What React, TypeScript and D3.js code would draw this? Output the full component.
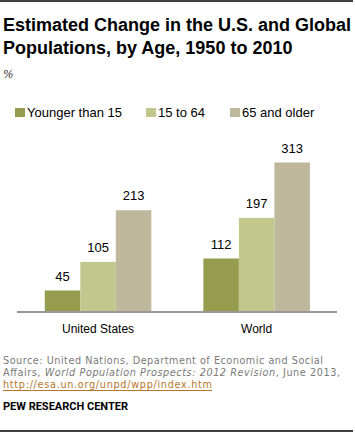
import React from "react";
import * as d3 from "d3";

const categories = ["United States", "World"];
const seriesNames = ["Younger than 15", "15 to 64", "65 and older"];
const seriesColors = ["#959c4e", "#c1c78d", "#c0b89c"];
const usValues = [45, 105, 213];
const worldValues = [112, 197, 313];
const values = [usValues, worldValues];

export default function App() {
  const W = 355, H = 433;
  const baseline = 312;
  const x0 = d3.scaleBand().domain(categories).range([17, 337.7]).paddingInner(0.328).paddingOuter(0.175);
  const x1 = d3.scaleBand().domain(seriesNames).range([0, x0.bandwidth()]);
  const y = d3.scaleLinear().domain([0, 313]).range([baseline, 162.5]);
  const legendX = [15, 146, 230];
  return (
    <svg width={W} height={H} style={{ position: "absolute", left: 0, top: 0, background: "#fff" }}>
      <line x1={0} x2={353} y1={1} y2={1} stroke="#000" strokeWidth={1.5} />
      <g fontFamily="'Liberation Sans', Arial, sans-serif" fontWeight="bold" fontSize={18} fill="#000">
        <text x={3} y={31}>Estimated Change in the U.S. and Global</text>
        <text x={3} y={54}>Populations, by Age, 1950 to 2010</text>
      </g>
      <text x={3} y={78} fontFamily="'DejaVu Serif', Georgia, serif" fontStyle="italic" fontSize={11} fill="#333">%</text>
      <g fontFamily="'Liberation Sans', Arial, sans-serif" fontSize={13} fill="#000">
        {seriesNames.map((s, i) => (
          <g key={s}>
            <rect x={legendX[i]} y={108} width={10} height={9} fill={seriesColors[i]} />
            <text x={legendX[i] + 12} y={117}>{s}</text>
          </g>
        ))}
      </g>
      {categories.map((c, ci) => (
        <g key={c} transform={`translate(${x0(c)},0)`}>
          {seriesNames.map((s, si) => {
            const v = values[ci][si];
            return (
              <g key={s}>
                <rect x={x1(s)} y={y(v)} width={x1.bandwidth()} height={baseline - y(v)} fill={seriesColors[si]} />
                <text x={(x1(s) as number) + x1.bandwidth() / 2} y={y(v) - 10} textAnchor="middle"
                  fontFamily="'Liberation Sans', Arial, sans-serif" fontSize={13} fill="#000">{v}</text>
              </g>
            );
          })}
          <text x={x0.bandwidth() / 2} y={333} textAnchor="middle" fontFamily="'Liberation Sans', Arial, sans-serif" fontSize={12} fill="#000">{c}</text>
        </g>
      ))}
      <line x1={17} x2={337} y1={baseline} y2={baseline} stroke="#999" strokeWidth={2} />
      <g fontFamily="'DejaVu Sans', Verdana, sans-serif" fontSize={9.7} fill="#7a7a7a">
        <text x={3} y={364} textLength={320} lengthAdjust="spacing">Source: United Nations, Department of Economic and Social</text>
        <text x={3} y={376} textLength={337} lengthAdjust="spacing">Affairs, <tspan fontStyle="italic">World Population Prospects: 2012 Revision</tspan>, June 2013,</text>
        <text x={3} y={388} fill="#b5772b" textLength={209} lengthAdjust="spacing">http://esa.un.org/unpd/wpp/index.htm</text>
      </g>
      <line x1={3} x2={212} y1={390.5} y2={390.5} stroke="#b5772b" strokeWidth={1} />
      <text x={3} y={410} fontFamily="Roboto, 'Liberation Sans', sans-serif" fontWeight="bold" fontSize={11} fill="#000">PEW RESEARCH CENTER</text>
      <line x1={0} x2={353} y1={431} y2={431} stroke="#000" strokeWidth={1.5} />
    </svg>
  );
}
